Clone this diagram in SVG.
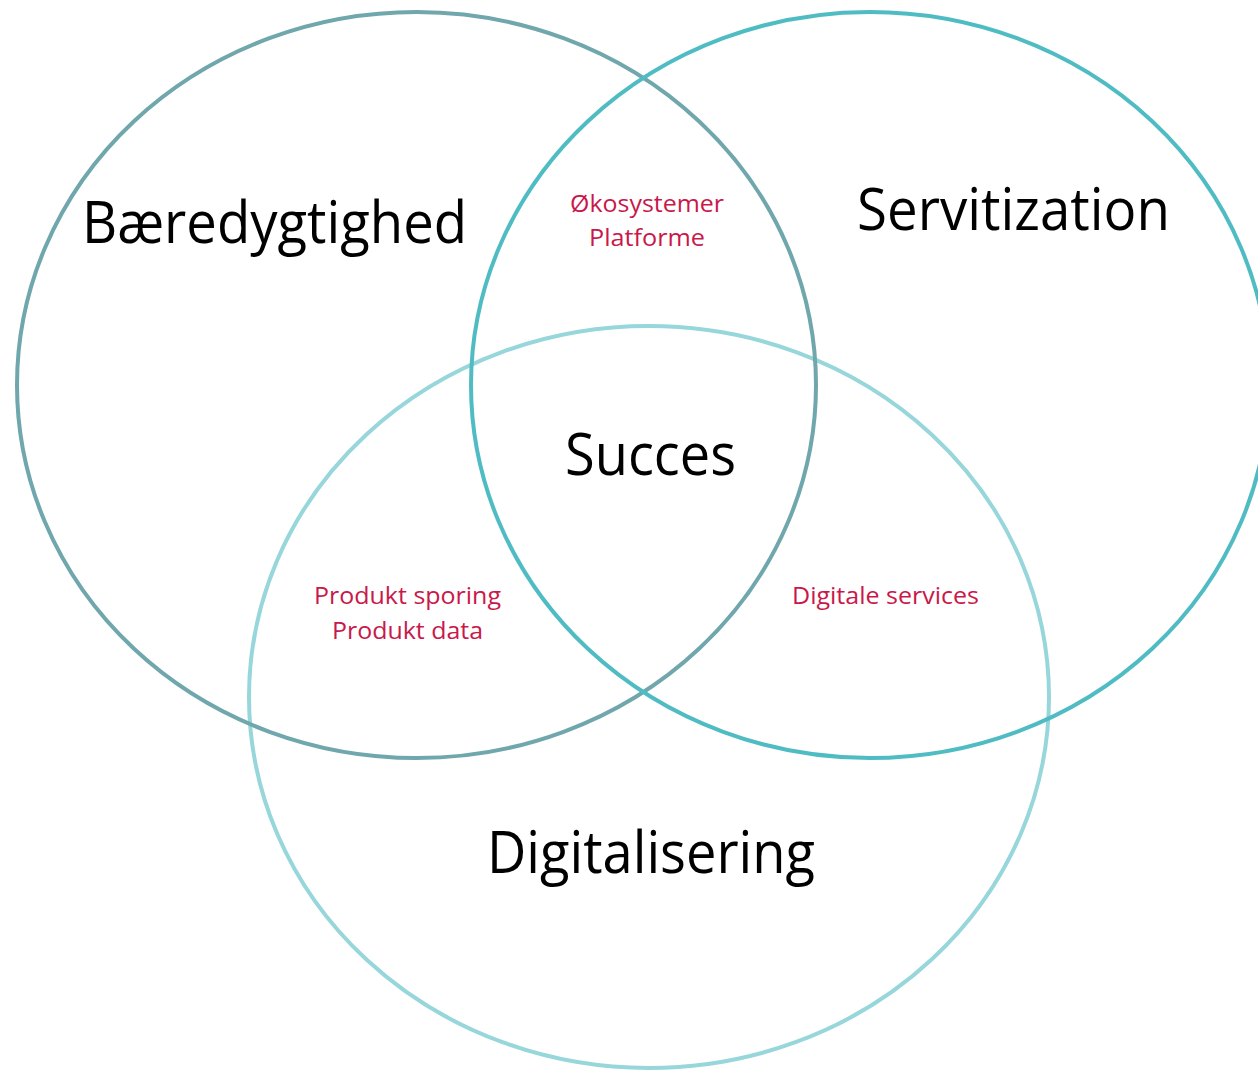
<svg xmlns="http://www.w3.org/2000/svg" width="1258" height="1070" viewBox="0 0 1258 1070">
<style>
.ring{fill:none;stroke-width:4}
.big{font-family:"Open Sans","Liberation Sans",sans-serif;font-size:59px;fill:#000;text-anchor:middle}
.small{font-family:"Open Sans","Liberation Sans",sans-serif;font-size:23px;fill:#c9184a;text-anchor:middle}
</style>
<rect width="1258" height="1070" fill="#fff"/>
<g id="digitalisering">
<ellipse class="ring" cx="649" cy="697" rx="400" ry="371" stroke="#97d6da"/>
<text class="big" x="651" y="873" textLength="328" lengthAdjust="spacingAndGlyphs">Digitalisering</text>
</g>
<g id="baeredygtighed">
<ellipse class="ring" cx="416.5" cy="385" rx="399.5" ry="373" stroke="#6fa7ad"/>
<text class="big" x="274.5" y="243" textLength="385" lengthAdjust="spacingAndGlyphs">Bæredygtighed</text>
</g>
<g id="servitization">
<ellipse class="ring" cx="870" cy="385" rx="399" ry="373" stroke="#4fbcc4"/>
<text class="big" x="1013.5" y="230" textLength="313" lengthAdjust="spacingAndGlyphs">Servitization</text>
</g>
<g id="succes">
<text class="big" x="650.5" y="475" textLength="171" lengthAdjust="spacingAndGlyphs">Succes</text>
</g>
<g id="okosystemer">
<text class="small" x="647" y="212" textLength="154" lengthAdjust="spacingAndGlyphs">Økosystemer</text>
<text class="small" x="647" y="246" textLength="116" lengthAdjust="spacingAndGlyphs">Platforme</text>
</g>
<g id="produkt">
<text class="small" x="407.5" y="604" textLength="187" lengthAdjust="spacingAndGlyphs">Produkt sporing</text>
<text class="small" x="407.5" y="639" textLength="151" lengthAdjust="spacingAndGlyphs">Produkt data</text>
</g>
<g id="digitale-services">
<text class="small" x="885.5" y="604" textLength="187" lengthAdjust="spacingAndGlyphs">Digitale services</text>
</g>
<g id="connectors"/>
</svg>
